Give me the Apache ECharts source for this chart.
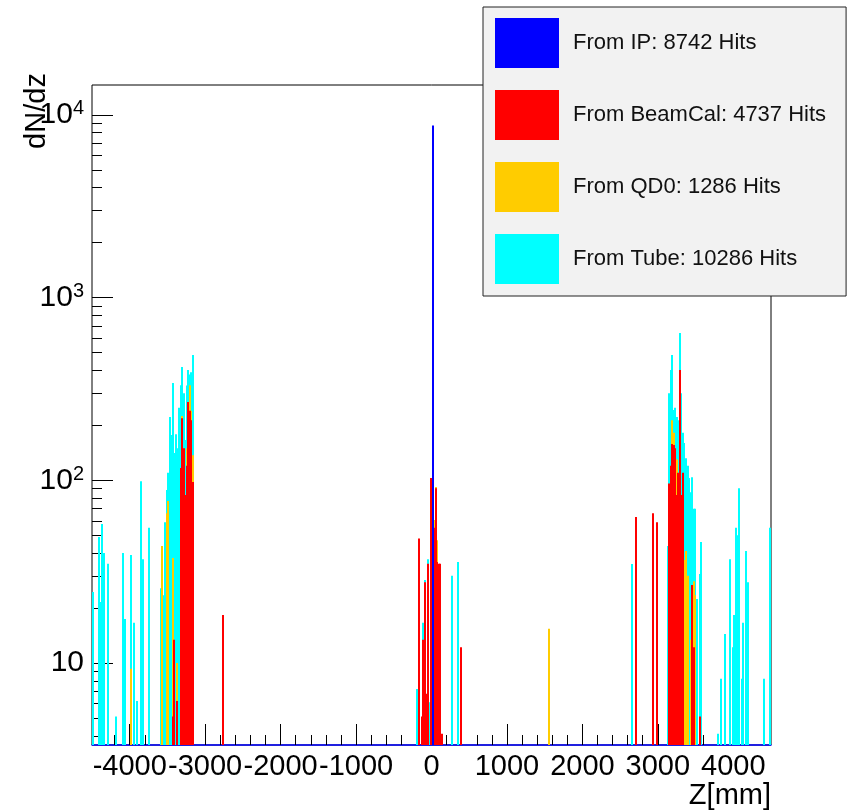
<!DOCTYPE html>
<html>
<head>
<meta charset="utf-8">
<script src="https://cdn.jsdelivr.net/npm/echarts@6/dist/echarts.min.js"></script>
<style>
html,body{margin:0;padding:0;background:#fff;}
#chart{width:848px;height:811px;}
</style>
</head>
<body>
<div id="chart"></div>
<script>
// ---------- data (bin centre in mm, hits per 20 mm bin) ----------
const binWidthMm = 20;
const zMin = -4500, zMax = 4500;
const countMin = 3.56, countMax = 14580;
const xMajorTicks = [-4000, -3000, -2000, -1000, 0, 1000, 2000, 3000, 4000];
const yMajorTicks = [10, 100, 1000, 10000];
const legendNames = ['From IP: 8742 Hits', 'From BeamCal: 4737 Hits', 'From QD0: 1286 Hits', 'From Tube: 10286 Hits'];

const ipHits = [[10, 8742]];

const beamcalHits = [
  [-3430, 5.1], [-3410, 13.4], [-3370, 6.2], [-3330, 117], [-3310, 219], [-3290, 150], [-3270, 83],
  [-3250, 120], [-3230, 268], [-3210, 240], [-3190, 213], [-3170, 98],
  [-2770, 18.3],
  [-170, 48], [-130, 5.1], [-110, 13.4], [-90, 27.7], [-70, 6.8], [-50, 35], [-10, 103], [30, 55],
  [50, 90.6], [70, 35.7], [90, 35], [110, 35], [130, 4.1], [390, 12.2],
  [2710, 63], [2930, 66], [2990, 59], [3150, 96], [3170, 120], [3190, 158], [3210, 156], [3230, 150],
  [3250, 83], [3270, 110], [3290, 402], [3310, 83], [3330, 110], [3450, 26.7], [3470, 12.2], [3550, 5.1]
];

const qd0Hits = [
  [-3990, 9.3], [-3570, 43.7], [-3510, 66], [-3490, 77], [-3430, 37.6], [-3370, 10], [-3310, 225],
  [-3250, 150], [-3210, 331], [-3190, 240], [-3170, 137],
  [30, 60.6], [50, 92], [70, 47], [1550, 15.4],
  [3190, 213], [3210, 182], [3250, 130], [3350, 36.6], [3370, 41], [3390, 30], [3430, 13.4],
  [3450, 25], [3470, 28], [3490, 23.5]
];

const tubeHits = [
  [-4490, 24.5], [-4410, 49], [-4390, 21.6], [-4370, 57.7], [-4350, 40], [-4290, 35], [-4190, 5.1],
  [-4090, 40], [-4070, 17.4], [-3990, 39], [-3950, 16.6], [-3910, 6.2], [-3850, 99], [-3830, 37], [-3750, 55],
  [-3590, 25.7], [-3550, 23.5], [-3530, 59], [-3510, 88.5], [-3490, 110], [-3470, 222], [-3450, 177],
  [-3430, 341], [-3410, 141], [-3390, 179], [-3370, 150], [-3350, 250], [-3330, 331], [-3310, 417],
  [-3290, 300], [-3270, 166], [-3250, 330], [-3230, 402], [-3210, 380], [-3190, 390], [-3170, 485],
  [-190, 7.2], [-110, 16.6], [-90, 28.5], [-50, 37], [-30, 6.1], [270, 30], [350, 35.7],
  [2650, 34.8], [3130, 43.7], [3150, 300], [3170, 402], [3190, 485], [3210, 243], [3230, 250], [3250, 222],
  [3270, 213], [3290, 640], [3310, 300], [3330, 182], [3350, 160], [3370, 132], [3390, 120], [3410, 103],
  [3430, 86], [3450, 104], [3470, 70], [3490, 70], [3510, 22.4], [3550, 30.7], [3570, 46],
  [3790, 4.1], [3830, 8.2], [3890, 14.4], [3950, 37], [3990, 12.2], [4010, 18.3], [4030, 55], [4050, 50],
  [4070, 90.6], [4110, 8.2], [4130, 16.6], [4170, 41], [4190, 27.7], [4410, 8.2], [4490, 55]
];

// ---------- chart ----------
const FONT = '"Liberation Sans", Arial, Helvetica, sans-serif';
const yLogMin = Math.log10(countMin), yLogMax = Math.log10(countMax);

const yMinorTicks = [];
for (let e = 0; e <= 4; e++) {
  for (let k = 2; k <= 9; k++) {
    const v = Math.log10(k * Math.pow(10, e));
    if (v > yLogMin && v < yLogMax) yMinorTicks.push(v);
  }
}
const xMinorTicks = [];
for (let z = -4400; z <= 4400; z += 200) xMinorTicks.push(z);

function toLog(arr) { return arr.map(d => [d[0], Math.log10(d[1])]); }

function renderBin(params, api) {
  const z = api.value(0), ly = api.value(1);
  const pTop = api.coord([z - binWidthMm / 2, ly]);
  const pBot = api.coord([z + binWidthMm / 2, yLogMin]);
  let x0 = Math.round(pTop[0]);
  let x1 = Math.round(pBot[0]);
  if (x1 - x0 < 2) x1 = x0 + 2;
  const cs = params.coordSys;
  const shape = echarts.graphic.clipRectByRect(
    { x: x0, y: pTop[1], width: x1 - x0, height: pBot[1] - pTop[1] },
    { x: cs.x, y: cs.y, width: cs.width, height: cs.height }
  );
  return shape && { type: 'rect', shape: shape, style: { fill: api.visual('color') } };
}

function histSeries(name, data, color) {
  return {
    type: 'custom', name: name, data: toLog(data),
    xAxisIndex: 0, yAxisIndex: 0,
    encode: { x: 0, y: 1 },
    itemStyle: { color: color },
    renderItem: renderBin,
    silent: true, animation: false
  };
}

const chart = echarts.init(document.getElementById('chart'), null, { renderer: 'canvas' });
chart.setOption({
  backgroundColor: '#ffffff',
  animation: false,
  grid: { left: 92, right: 77, top: 85, bottom: 66, show: true, borderColor: '#000', borderWidth: 1, backgroundColor: '#fff' },
  xAxis: [
    {
      type: 'value', min: zMin, max: zMax, position: 'bottom',
      axisLine: { show: true, onZero: false, lineStyle: { color: '#0000ff', width: 1.5 } },
      axisTick: { show: true, inside: true, length: 21, customValues: xMajorTicks, lineStyle: { color: '#000', width: 1 } },
      axisLabel: {
        show: true, customValues: xMajorTicks, margin: 7, color: '#000', fontSize: 29, fontFamily: FONT,
        formatter: function (v) { return String(v); },
        hideOverlap: false, showMinLabel: true, showMaxLabel: true
      },
      splitLine: { show: false }
    },
    {
      type: 'value', min: zMin, max: zMax, position: 'bottom',
      axisLine: { show: false, onZero: false },
      axisTick: { show: true, inside: true, length: 10, customValues: xMinorTicks, lineStyle: { color: '#000', width: 1 } },
      axisLabel: { show: false },
      splitLine: { show: false }
    }
  ],
  yAxis: [
    {
      type: 'value', min: yLogMin, max: yLogMax, position: 'left',
      axisLine: { show: false, onZero: false },
      axisTick: { show: true, inside: true, length: 21, customValues: yMajorTicks.map(Math.log10), lineStyle: { color: '#000', width: 1 } },
      axisLabel: {
        show: true, customValues: yMajorTicks.map(Math.log10), margin: 8, color: '#000',
        hideOverlap: false, showMinLabel: true, showMaxLabel: true,
        formatter: function (v) {
          const e = Math.round(v);
          return e === 1 ? '{b|10}' : '{b|10}{s|' + e + '}';
        },
        rich: {
          b: { fontSize: 30, lineHeight: 32, fontFamily: FONT, color: '#000' },
          s: { fontSize: 20, lineHeight: 20, verticalAlign: 'top', fontFamily: FONT, color: '#000' }
        }
      },
      splitLine: { show: false }
    },
    {
      type: 'value', min: yLogMin, max: yLogMax, position: 'left',
      axisLine: { show: false, onZero: false },
      axisTick: { show: true, inside: true, length: 10, customValues: yMinorTicks, lineStyle: { color: '#000', width: 1 } },
      axisLabel: { show: false },
      splitLine: { show: false }
    }
  ],
  legend: {
    data: legendNames,
    orient: 'vertical', left: 483, top: 7,
    icon: 'rect', itemWidth: 64, itemHeight: 50, itemGap: 22,
    padding: [11, 20, 12, 12],
    backgroundColor: '#f2f2f2', borderColor: '#222', borderWidth: 1,
    textStyle: { fontSize: 22, fontFamily: FONT, color: '#111', padding: [0, 0, 0, 9] },
    selectedMode: false, z: 10
  },
  graphic: [
    { type: 'text', x: 37, y: 111, rotation: Math.PI / 2, z: 100,
      style: { text: 'dN/dz', font: '29px ' + FONT, fill: '#000', align: 'center', verticalAlign: 'middle' } },
    { type: 'text', x: 771, y: 796, z: 100,
      style: { text: 'Z[mm]', font: '29px ' + FONT, fill: '#000', align: 'right', verticalAlign: 'middle' } }
  ],
  series: [
    histSeries(legendNames[3], tubeHits, '#00ffff'),
    histSeries(legendNames[2], qd0Hits, '#ffcc00'),
    histSeries(legendNames[1], beamcalHits, '#ff0000'),
    histSeries(legendNames[0], ipHits, '#0000ff')
  ]
});
</script>
</body>
</html>
